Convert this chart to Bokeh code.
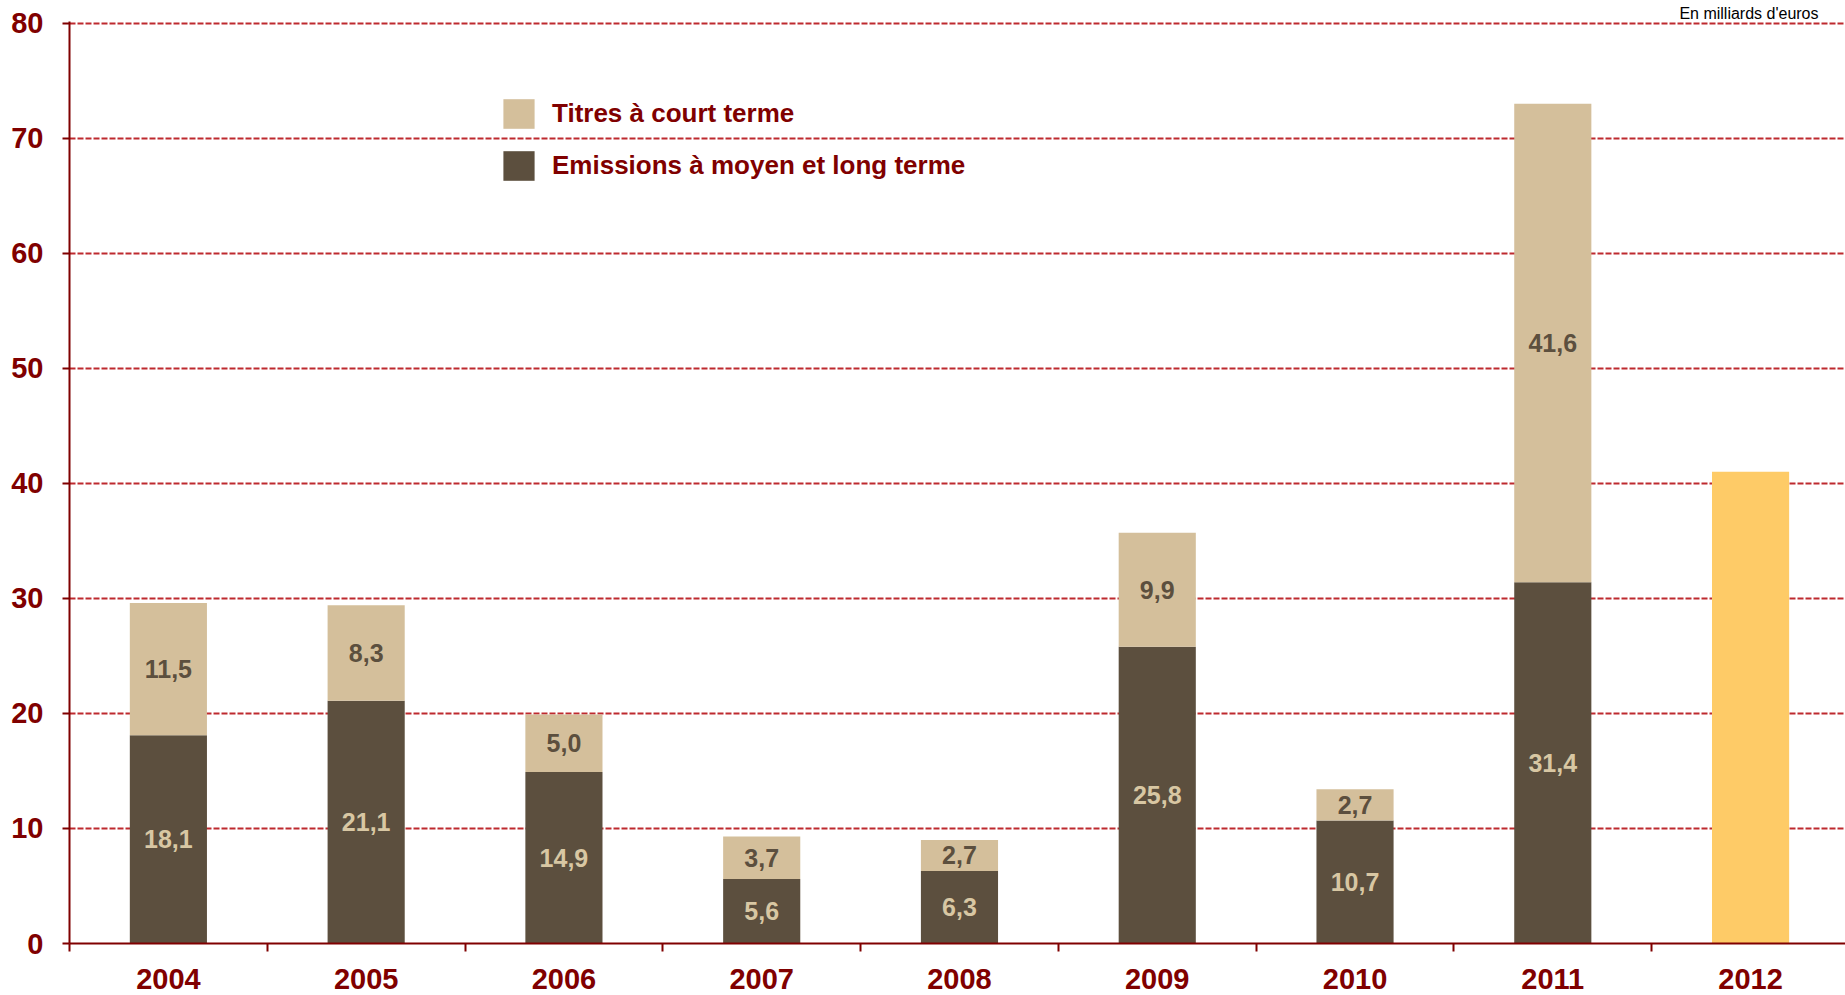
from bokeh.plotting import figure
from bokeh.models import (ColumnDataSource, FixedTicker, Legend, LegendItem,
                          LabelSet)
from bokeh.core.properties import value
from bokeh.embed import file_html
from bokeh.resources import INLINE

# ---- data ----
years = ["2004", "2005", "2006", "2007", "2008", "2009", "2010", "2011", "2012"]
stack_years = ["2004", "2005", "2006", "2007", "2008", "2009", "2010", "2011"]
moyen_long = [18.1, 21.1, 14.9, 5.6, 6.3, 25.8, 10.7, 31.4]
court_terme = [11.5, 8.3, 5.0, 3.7, 2.7, 9.9, 2.7, 41.6]
total_2012 = [41.0]
y_ticks = [0, 10, 20, 30, 40, 50, 60, 70, 80]

# ---- colours / fonts ----
DARK = "#5C4F3E"
TAN = "#D4BF9B"
YELLOW = "#FECB67"
MAROON = "#800000"
GRID = "#BE2A2F"
FONT = "Liberation Sans"


def fmt(v):
    return f"{v:.1f}".replace(".", ",")


xs = [years.index(y) + 1 for y in stack_years]
src = ColumnDataSource(dict(
    x=xs,
    ml=moyen_long,
    ct=court_terme,
    ml_mid=[m / 2 for m in moyen_long],
    ct_mid=[m + c / 2 for m, c in zip(moyen_long, court_terme)],
    ml_txt=[fmt(v) for v in moyen_long],
    ct_txt=[fmt(v) for v in court_terme],
))
src12 = ColumnDataSource(dict(x=[years.index("2012") + 1], top=total_2012))

p = figure(width=1845, height=995, output_backend="svg", toolbar_location=None,
           x_range=(0.5, 9.48), y_range=(0, 80.15),
           min_border_left=69, min_border_right=0, min_border_top=21,
           min_border_bottom=52)
p.outline_line_color = None
p.background_fill_color = "white"
p.border_fill_color = "white"

# unit note (as title, top right)
p.title.text = "En milliards d'euros"
p.title.align = "right"
p.title.text_font = FONT
p.title.text_font_size = "16px"
p.title.text_font_style = "normal"
p.title.text_color = "#000000"
p.title.standoff = 0
p.title.offset = 27

rs = p.vbar_stack(["ml", "ct"], x="x", width=0.39, source=src,
                  color=[DARK, TAN], line_color=None)
p.vbar(x="x", top="top", width=0.39, source=src12, color=YELLOW, line_color=None)

# value labels
p.add_layout(LabelSet(x="x", y="ml_mid", text="ml_txt", source=src,
                      text_align="center", text_baseline="middle",
                      text_font=value(FONT), text_font_style="bold",
                      text_font_size="25px", text_color="#D8C7A3"))
p.add_layout(LabelSet(x="x", y="ct_mid", text="ct_txt", source=src,
                      text_align="center", text_baseline="middle",
                      text_font=value(FONT), text_font_style="bold",
                      text_font_size="25px", text_color=DARK))

# legend
legend = Legend(items=[LegendItem(label="Titres à court terme", renderers=[rs[1]]),
                       LegendItem(label="Emissions à moyen et long terme", renderers=[rs[0]])],
                location=(430, 759), orientation="vertical",
                glyph_width=39, glyph_height=37, label_standoff=14,
                spacing=15, padding=0, margin=0,
                border_line_color=None, background_fill_alpha=0,
                label_text_font=FONT, label_text_font_style="bold",
                label_text_font_size="26px", label_text_color=MAROON,
                label_height=37)
p.add_layout(legend, "center")

# grids
p.xgrid.grid_line_color = None
p.ygrid.ticker = FixedTicker(ticks=y_ticks[1:])
p.ygrid.grid_line_color = GRID
p.ygrid.grid_line_width = 2
p.ygrid.grid_line_dash = "6 2"

# y axis
p.yaxis.ticker = FixedTicker(ticks=y_ticks)
p.yaxis.axis_line_color = MAROON
p.yaxis.axis_line_width = 2
p.yaxis.major_tick_line_color = MAROON
p.yaxis.major_tick_line_width = 2
p.yaxis.major_tick_out = 7
p.yaxis.major_tick_in = 0
p.yaxis.minor_tick_line_color = None
p.yaxis.major_label_standoff = 19
p.yaxis.major_label_text_font = FONT
p.yaxis.major_label_text_font_style = "bold"
p.yaxis.major_label_text_font_size = "29px"
p.yaxis.major_label_text_color = MAROON

# x axis
p.xaxis.ticker = FixedTicker(ticks=[i + 1 for i in range(len(years))],
                             minor_ticks=[i + 0.5 for i in range(len(years) + 1)])
p.xaxis.major_label_overrides = {i + 1: y for i, y in enumerate(years)}
p.xaxis.axis_line_color = MAROON
p.xaxis.axis_line_width = 2
p.xaxis.major_tick_line_color = None
p.xaxis.major_tick_out = 0
p.xaxis.major_tick_in = 0
p.xaxis.minor_tick_line_color = MAROON
p.xaxis.minor_tick_line_width = 2
p.xaxis.minor_tick_out = 8
p.xaxis.minor_tick_in = 0
p.xaxis.major_label_standoff = 17
p.xaxis.major_label_text_font = FONT
p.xaxis.major_label_text_font_style = "bold"
p.xaxis.major_label_text_font_size = "29px"
p.xaxis.major_label_text_color = MAROON

open("out.html", "w").write(file_html(p, INLINE))
